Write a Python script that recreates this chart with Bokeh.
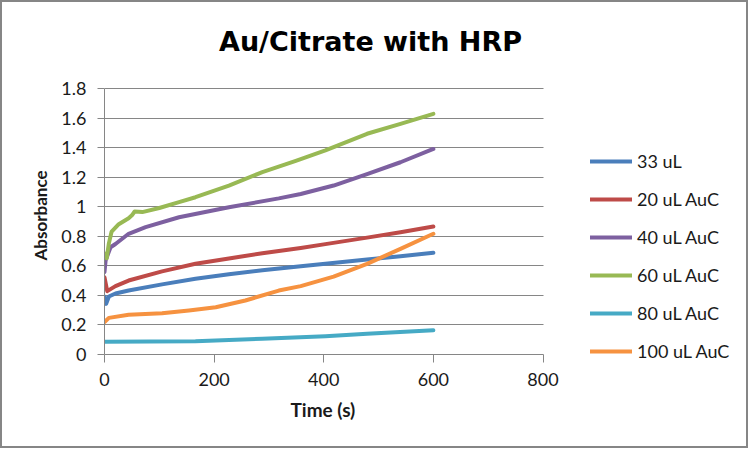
from bokeh.plotting import figure
from bokeh.models import FixedTicker, CustomJSTickFormatter, Legend, LegendItem, Label, Range1d, Title
from bokeh.embed import file_html
from bokeh.resources import INLINE

# ---- data ----
t_33 = [0, 3, 8, 20, 44, 105, 166, 227, 288, 358, 403, 479, 540, 600]
v_33 = [0.39, 0.34, 0.39, 0.41, 0.43, 0.472, 0.51, 0.54, 0.568, 0.595, 0.612, 0.64, 0.663, 0.686]

t_20 = [0, 5, 20, 44, 105, 166, 227, 288, 358, 403, 479, 540, 600]
v_20 = [0.52, 0.426, 0.46, 0.498, 0.56, 0.612, 0.648, 0.683, 0.719, 0.745, 0.789, 0.826, 0.864]

t_40 = [0, 2, 11, 20, 44, 75, 136, 227, 318, 358, 418, 479, 540, 600]
v_40 = [0.555, 0.634, 0.724, 0.746, 0.815, 0.86, 0.927, 0.995, 1.055, 1.085, 1.142, 1.22, 1.30, 1.39]

t_60 = [0, 4, 8, 13, 26, 44, 50, 55, 69, 100, 136, 166, 227, 288, 349, 403, 479, 540, 600]
v_60 = [0.68, 0.65, 0.75, 0.83, 0.88, 0.92, 0.94, 0.966, 0.962, 0.99, 1.03, 1.063, 1.142, 1.233, 1.31, 1.38, 1.493, 1.56, 1.628]

t_80 = [0, 166, 288, 403, 479, 600]
v_80 = [0.083, 0.087, 0.103, 0.12, 0.137, 0.161]

t_100 = [0, 8, 44, 105, 154, 203, 257, 318, 358, 418, 479, 540, 600]
v_100 = [0.216, 0.245, 0.266, 0.277, 0.295, 0.317, 0.363, 0.43, 0.46, 0.525, 0.611, 0.713, 0.815]

series_names = ["33 uL", "20 uL AuC", "40 uL AuC", "60 uL AuC", "80 uL AuC", "100 uL AuC"]
series_t = [t_33, t_20, t_40, t_60, t_80, t_100]
series_v = [v_33, v_20, v_40, v_60, v_80, v_100]
series_colors = ["#4A7EBB", "#BE4B48", "#7D60A0", "#98B954", "#46AAC5", "#F69240"]

x_min, x_max = 0, 800
y_min, y_max = 0, 1.8
x_ticks = [0, 200, 400, 600, 800]
y_ticks = [0, 0.2, 0.4, 0.6, 0.8, 1.0, 1.2, 1.4, 1.6, 1.8]

title_text = "Au/Citrate with HRP"
x_label = "Time (s)"
y_label = "Absorbance"

FONT = "Lato"
GRAY = "#868686"
TXT = "#1a1a1a"

# ---- layout (pixels) ----
W, H = 748, 448            # canvas inside a 2px border -> 752 x 452
LEFT = 102                 # frame left edge
BOTTOM = 88                # space below the frame
axis_px_x = 438.5          # pixels spanned by x_min..x_max
axis_px_y = 265.5          # pixels spanned by y_min..y_max
below_zero_px = 8.5        # frame extends a little below y = 0
frame_w = W - LEFT
frame_h = H - BOTTOM
px_per_x = axis_px_x / (x_max - x_min)
px_per_y = axis_px_y / (y_max - y_min)
x_rng = Range1d(x_min, x_min + frame_w / px_per_x)
y_rng = Range1d(y_min - below_zero_px / px_per_y, y_min + (frame_h - below_zero_px) / px_per_y)

p = figure(width=W, height=H, output_backend="svg", toolbar_location=None,
           x_range=x_rng, y_range=y_rng,
           min_border_left=LEFT, min_border_right=0, min_border_top=0, min_border_bottom=BOTTOM)
p.outline_line_color = None
p.background_fill_color = "white"
p.border_fill_color = "white"

renderers = []
for t, v, c in zip(series_t, series_v, series_colors):
    r = p.line(t, v, line_color=c, line_width=4, line_join="round", line_cap="round")
    renderers.append(r)

# axes
for ax in (p.xaxis[0], p.yaxis[0]):
    ax.major_tick_line_color = GRAY
    ax.minor_tick_line_color = None
    ax.major_label_text_font = FONT
    ax.major_label_text_font_size = "18px"
    ax.major_label_text_color = TXT

p.xaxis.bounds = (x_min, x_max)
p.xaxis.axis_line_color = None
p.xaxis.major_tick_in = 8
p.xaxis.major_tick_out = 0
p.xaxis.ticker = FixedTicker(ticks=x_ticks)
p.xaxis.major_label_standoff = 10

p.yaxis.bounds = (y_min, y_max)
p.yaxis.axis_line_color = GRAY
p.yaxis.major_tick_in = 0
p.yaxis.major_tick_out = 7
p.yaxis.ticker = FixedTicker(ticks=y_ticks)
p.yaxis.formatter = CustomJSTickFormatter(code="return String(Math.round(tick*10)/10);")
p.yaxis.major_label_standoff = 11

p.xgrid.grid_line_color = None
p.ygrid.grid_line_color = GRAY
p.ygrid.ticker = FixedTicker(ticks=y_ticks)
p.ygrid.cross_bounds = (x_min, x_max)

# axis titles, placed over the 0..800 / 0..1.8 part of the axes
p.add_layout(Title(text=x_label, align="left", offset=186, vertical_align="top", standoff=18,
                   text_font=FONT, text_font_style="bold", text_font_size="19px",
                   text_color=TXT), "below")
p.add_layout(Title(text=y_label, align="left", offset=102, vertical_align="middle", standoff=14,
                   text_font=FONT, text_font_style="bold", text_font_size="17px",
                   text_color=TXT), "left")

# chart title (positioned in screen pixels from frame bottom-left)
p.add_layout(Label(x=266, y=321, x_units="screen", y_units="screen", text=title_text,
                   text_font="DejaVu Sans", text_font_style="bold", text_font_size="27px",
                   text_color="#000000", text_align="center", text_baseline="alphabetic"))

# legend
items = [LegendItem(label=n, renderers=[r]) for n, r in zip(series_names, renderers)]
legend = Legend(items=items, location=(486, 0), orientation="vertical",
                glyph_width=42, glyph_height=20, label_height=20, spacing=16,
                label_standoff=5, padding=0, margin=0,
                border_line_color=None, background_fill_alpha=0,
                label_text_font=FONT, label_text_font_size="18px", label_text_color=TXT,
                label_text_baseline="middle")
p.add_layout(legend)

p.styles = {"border": "2px solid #868686"}

open("out.html", "w").write(file_html(p, INLINE))
